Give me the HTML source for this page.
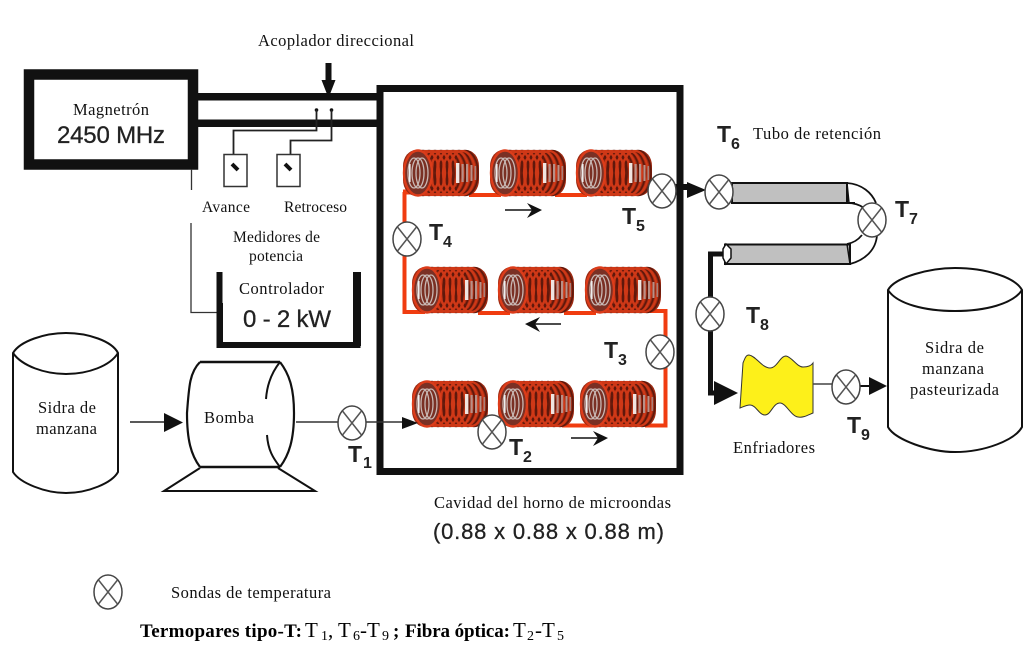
<!DOCTYPE html>
<html>
<head>
<meta charset="utf-8">
<style>
html,body{margin:0;padding:0;background:#fff;}
svg{display:block;}
.s{font-family:"Liberation Serif",serif;font-size:16.5px;fill:#111;}
.n{font-size:15.5px;}
.a{font-family:"Liberation Sans",sans-serif;fill:#222;stroke:#222;stroke-width:.3px;}
.t{font-family:"Liberation Sans",sans-serif;font-weight:bold;font-size:23px;fill:#222;}
.u{font-family:"Liberation Sans",sans-serif;font-weight:bold;font-size:16px;fill:#222;}
.b{font-family:"Liberation Serif",serif;font-weight:bold;font-size:19px;fill:#000;}
.r{font-family:"Liberation Serif",serif;font-size:21px;fill:#000;}
.m{font-family:"Liberation Serif",serif;font-size:14px;fill:#000;}
</style>
</head>
<body>
<svg width="1030" height="657" viewBox="0 0 1030 657" xmlns="http://www.w3.org/2000/svg">
<defs>
<g id="coil">
<rect x="0" y="0" width="76" height="46" rx="13" ry="16" fill="#9c2a12"/>
<g fill="none" stroke="#5e180c" stroke-width="1.600">
<ellipse cx="20" cy="23" rx="13" ry="22.500"/><ellipse cx="26" cy="23" rx="13" ry="22.500"/><ellipse cx="32" cy="23" rx="13" ry="22.500"/><ellipse cx="38" cy="23" rx="13" ry="22.500"/><ellipse cx="44" cy="23" rx="13" ry="22.500"/><ellipse cx="50" cy="23" rx="13" ry="22.500"/><ellipse cx="56" cy="23" rx="13" ry="22.500"/><ellipse cx="62" cy="23" rx="13" ry="22.500"/>
</g>
<g fill="none" stroke="#cf3817" stroke-width="2.200">
<ellipse cx="23" cy="23" rx="13" ry="22"/><ellipse cx="29" cy="23" rx="13" ry="22"/><ellipse cx="35" cy="23" rx="13" ry="22"/><ellipse cx="41" cy="23" rx="13" ry="22"/><ellipse cx="47" cy="23" rx="13" ry="22"/><ellipse cx="53" cy="23" rx="13" ry="22"/><ellipse cx="59" cy="23" rx="13" ry="22"/>
</g>
<ellipse cx="15" cy="23" rx="14" ry="22.500" fill="#7a3024" stroke="#dc3c1a" stroke-width="2.400"/>
<g fill="none" stroke="#c8b8b4" stroke-width="1.300">
<ellipse cx="11" cy="23" rx="6" ry="15"/>
<ellipse cx="15" cy="23" rx="6" ry="15"/>
<ellipse cx="19" cy="23" rx="6" ry="15"/>
</g>
<rect x="6" y="14" width="1.600" height="18" fill="#eee"/>
<rect x="53" y="13" width="3.400" height="20" fill="#f0e4e0"/>
<rect x="58.500" y="14" width="2.200" height="18" fill="#b89088"/>
<rect x="63" y="14" width="2.200" height="18" fill="#b89088"/>
<rect x="67.500" y="15" width="2" height="16" fill="#b89088"/>
<rect x="71.500" y="16" width="1.600" height="14" fill="#a88078"/>
</g>
<g id="sensor">
<ellipse cx="0" cy="0" rx="14" ry="17" fill="#fff" stroke="#444" stroke-width="1.500"/>
<path d="M-9.500 -12 L9.500 12 M9.500 -12 L-9.500 12" stroke="#555" stroke-width="1.500" fill="none"/>
</g>
</defs>
<rect width="1030" height="657" fill="#fff"/>

<!-- Magnetron & waveguide -->
<rect x="29" y="74.500" width="164" height="90" fill="none" stroke="#111" stroke-width="10.500"/>
<rect x="197" y="93" width="182" height="7.500" fill="#111"/>
<rect x="197" y="119.500" width="182" height="7.500" fill="#111"/>
<path d="M325.500 63 h6 v17 h4 l-7 18 l-7 -18 h4 z" fill="#111"/>
<circle cx="316.500" cy="110" r="1.800" fill="#111"/><circle cx="331.500" cy="110" r="1.800" fill="#111"/>
<path d="M316.500 110 V130.500 H233.500 V154" fill="none" stroke="#222" stroke-width="1.800"/>
<path d="M331.500 110 V140.500 H290.500 V154" fill="none" stroke="#222" stroke-width="1.800"/>
<rect x="224" y="154.500" width="23" height="32" fill="#fff" stroke="#333" stroke-width="1.500"/>
<rect x="277" y="154.500" width="23" height="32" fill="#fff" stroke="#333" stroke-width="1.500"/>
<path d="M232 164 L238 170" stroke="#111" stroke-width="4"/>
<path d="M285 164 L291 170" stroke="#111" stroke-width="4"/>

<!-- Controller -->
<path d="M191.500 169 V190 M191 223 V312.500 H219" fill="none" stroke="#333" stroke-width="1.300"/>
<path d="M219.500 272 V345 H357.500 V272" fill="none" stroke="#111" stroke-width="6"/>
<rect x="353" y="272" width="8" height="74" fill="#111"/>
<rect x="217" y="303" width="6" height="42" fill="#111"/>

<!-- Cavity -->
<rect x="380" y="88.500" width="300" height="383" fill="none" stroke="#111" stroke-width="7"/>

<!-- Orange tube -->
<g fill="none" stroke="#f03c10" stroke-width="4">
<path d="M404.500 192 V312 H425"/>
<path d="M403 192 H422" stroke-width="5"/>
<path d="M469 195 H501"/><path d="M555 195 H587"/>
<path d="M478 313 H510"/><path d="M564 313 H596"/>
<path d="M650 311 H665.500 V425.500 H645"/>
<path d="M562 425.500 H593"/>
</g>

<!-- Coils -->
<use href="#coil" x="403" y="150"/><use href="#coil" x="490" y="150"/><use href="#coil" x="576" y="150"/>
<use href="#coil" x="412" y="267"/><use href="#coil" x="498" y="267"/><use href="#coil" x="585" y="267"/>
<use href="#coil" x="412" y="381"/><use href="#coil" x="498" y="381"/><use href="#coil" x="580" y="381"/>

<!-- Direction arrows -->
<g fill="none" stroke="#111" stroke-width="1.600">
<path d="M505 210 H539"/><path d="M561 324 H528"/><path d="M571 438 H606"/>
</g>
<path d="M527 203 L542 210 L527 218 L532 210 z" fill="#111"/>
<path d="M540 317 L525 324 L540 332 L535 324 z" fill="#111"/>
<path d="M593 431 L608 438 L593 446 L598 438 z" fill="#111"/>

<!-- Tank 1 -->
<path d="M13 353 C20 341 45 333 66 333 C88 333 112 341 118 353 V472 C112 483 88 493 66 493 C45 493 20 483 13 472 Z" fill="#fff" stroke="#111" stroke-width="2"/>
<path d="M13 353 C22 366 45 374 66 374 C88 374 110 366 118 353" fill="none" stroke="#111" stroke-width="2"/>

<!-- Pump -->
<path d="M200 362 H280 M200 467 H280" stroke="#111" stroke-width="2.500" fill="none"/>
<path d="M200 362 C190 372 189 385 187 413 C187 440 191 455 200 467" fill="none" stroke="#111" stroke-width="2.200"/>
<path d="M280 362 C290 375 294 390 294 413 C294 440 289 455 280 467" fill="none" stroke="#111" stroke-width="2.200"/>
<path d="M280 362 C272 372 267 385 266 399 M267 435 C268 450 273 458 280 467" fill="none" stroke="#111" stroke-width="2"/>
<path d="M200 468 L164 491 H315 L278 468" fill="none" stroke="#111" stroke-width="2"/>

<!-- Flow line left -->
<path d="M130 422 H166" stroke="#222" stroke-width="1.600"/>
<path d="M164 413 L183 422.500 L164 432 z" fill="#111"/>
<path d="M296 422 H404" stroke="#333" stroke-width="1.600"/>
<path d="M402 417 L418 423 L402 429 z" fill="#111"/>

<!-- Exit arrow -->
<rect x="673" y="184" width="16" height="6" fill="#111"/>
<path d="M687 182 L706 190 L687 198 z" fill="#111"/>

<!-- Holding tube -->
<rect x="732" y="183" width="115" height="20" fill="#c0c0c0" stroke="#111" stroke-width="2"/>
<path d="M847 203 H855" stroke="#111" stroke-width="2"/>
<rect x="725" y="244.500" width="125" height="19.500" fill="#c0c0c0" stroke="#111" stroke-width="2"/>
<path d="M847 183 C862 184 872 193 876 203 M847 203 C855 203 860 205 864 208 M847 244 C853 243 858 240 862 235 M850 264 C865 260 876 250 877 235" fill="none" stroke="#111" stroke-width="1.800"/>
<path d="M847 183 L849 203 M847 244 L850 264" stroke="#111" stroke-width="1.500"/>
<path d="M726 244 L731 249 V258 L726 264 L723 258 V249 Z" fill="#fff" stroke="#111" stroke-width="1.500"/>

<!-- Black pipe to cooler -->
<path d="M723 254 H710.500 V393 H718" fill="none" stroke="#111" stroke-width="5"/>
<path d="M714 381 L738 393 L714 405 z" fill="#111"/>

<!-- Cooler -->
<path d="M743 363 C745 358 746 355 749 355 C756 356 762 368 770 368 C777 368 780 356 786 356 C792 357 797 367 803 367 C807 367 811 366 813 363 L813 413 C808 415 803 418 798 417 C791 416 786 403 780 403 C773 403 771 415 765 415 C759 415 756 405 750 405 C746 405 743 407 740 408 Z" fill="#fdf01a" stroke="#333" stroke-width="1"/>
<path d="M813 384 H834" stroke="#444" stroke-width="1.500"/>
<path d="M860 386 H871" stroke="#111" stroke-width="2"/>
<path d="M869 377 L887 386 L869 395 z" fill="#111"/>

<!-- Tank 2 -->
<path d="M888 290 C895 277 930 268 955 268 C985 268 1015 277 1022 290 V427 C1015 440 985 452 955 452 C930 452 895 440 888 427 Z" fill="#fff" stroke="#111" stroke-width="2"/>
<path d="M888 290 C897 304 925 311 955 311 C985 311 1013 304 1022 290" fill="none" stroke="#111" stroke-width="2"/>

<!-- Sensors -->
<use href="#sensor" x="662" y="191"/>
<use href="#sensor" x="407" y="239"/>
<use href="#sensor" x="660" y="352"/>
<use href="#sensor" x="492" y="432"/>
<use href="#sensor" x="352" y="423"/>
<use href="#sensor" x="719" y="192"/>
<use href="#sensor" x="872" y="220"/>
<use href="#sensor" x="710" y="314"/>
<use href="#sensor" x="846" y="387"/>
<use href="#sensor" x="108" y="592"/>

<!-- Serif labels -->
<text class="s" x="258" y="46" textLength="156">Acoplador direccional</text>
<text class="s" x="73" y="115" textLength="76">Magnetrón</text>
<text class="s n" x="202" y="212" textLength="48">Avance</text>
<text class="s n" x="284" y="212" textLength="63">Retroceso</text>
<text class="s n" x="233" y="242" textLength="87">Medidores de</text>
<text class="s n" x="249" y="261" textLength="54">potencia</text>
<text class="s" x="239" y="294" textLength="85">Controlador</text>
<text class="s" x="38" y="413" textLength="58">Sidra de</text>
<text class="s" x="36" y="434" textLength="61">manzana</text>
<text class="s" x="204" y="423" textLength="50">Bomba</text>
<text class="s" x="753" y="139" textLength="128">Tubo de retención</text>
<text class="s" x="733" y="453" textLength="82">Enfriadores</text>
<text class="s" x="925" y="353" textLength="59">Sidra de</text>
<text class="s" x="922" y="374" textLength="62">manzana</text>
<text class="s" x="910" y="395" textLength="89">pasteurizada</text>
<text class="s" x="434" y="508" textLength="237">Cavidad del horno de microondas</text>
<text class="s" x="171" y="598" textLength="160">Sondas de temperatura</text>

<!-- Sans labels -->
<text class="a" x="57" y="143" font-size="24" textLength="108">2450 MHz</text>
<text class="a" x="243" y="327" font-size="24" textLength="88">0 - 2 kW</text>
<text class="a" x="433" y="539" font-size="22" textLength="231">(0.88 x 0.88 x 0.88 m)</text>

<!-- T labels -->
<text class="t" x="348" y="462">T</text><text class="u" x="363" y="468">1</text>
<text class="t" x="509" y="455">T</text><text class="u" x="523" y="462">2</text>
<text class="t" x="604" y="358">T</text><text class="u" x="618" y="365">3</text>
<text class="t" x="429" y="240">T</text><text class="u" x="443" y="247">4</text>
<text class="t" x="622" y="224">T</text><text class="u" x="636" y="231">5</text>
<text class="t" x="717" y="142">T</text><text class="u" x="731" y="149">6</text>
<text class="t" x="895" y="217">T</text><text class="u" x="909" y="224">7</text>
<text class="t" x="746" y="323">T</text><text class="u" x="760" y="330">8</text>
<text class="t" x="847" y="433">T</text><text class="u" x="861" y="440">9</text>

<!-- Legend line -->
<text class="b" x="140" y="637" textLength="162">Termopares tipo-T:</text>
<text class="r" x="305" y="637">T</text><text class="m" x="321" y="640">1</text><text class="r" x="328" y="637">,</text>
<text class="r" x="338" y="637">T</text><text class="m" x="353" y="640">6</text><text class="r" x="360" y="637">-</text>
<text class="r" x="367" y="637">T</text><text class="m" x="382" y="640">9</text>
<text class="b" x="393" y="637">;</text>
<text class="b" x="405" y="637" textLength="105">Fibra óptica:</text>
<text class="r" x="513" y="637">T</text><text class="m" x="527" y="640">2</text><text class="r" x="535" y="637">-</text>
<text class="r" x="542" y="637">T</text><text class="m" x="557" y="640">5</text>
</svg>
</body>
</html>
